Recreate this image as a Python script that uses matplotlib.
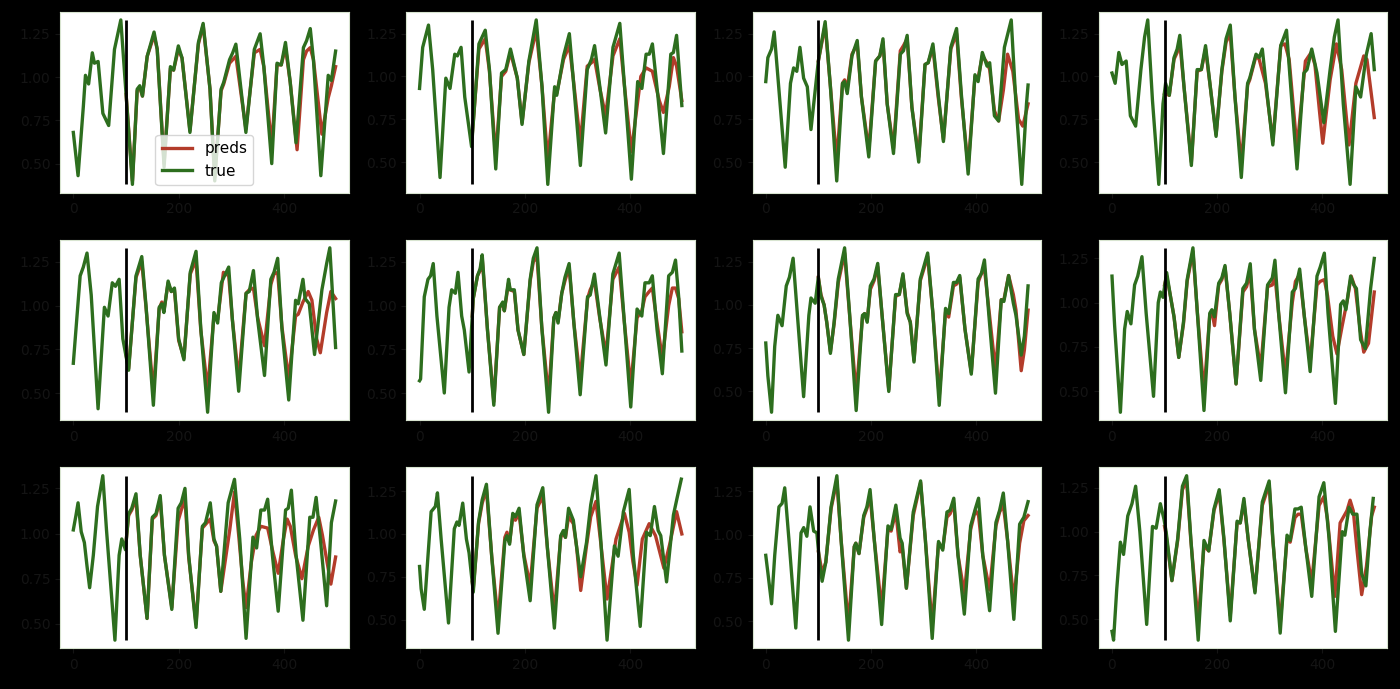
import matplotlib
matplotlib.use('Agg')
import matplotlib.pyplot as plt

# values, one (x, y) list per panel
t1_x = [0, 9, 19, 23, 29, 36, 40, 47, 56, 67, 78, 90, 112, 121, 126, 131, 140, 153, 159, 172, 184, 190, 199, 206, 221, 237, 246, 259, 268, 280, 285, 296, 302, 308, 327, 343, 354, 361, 376, 386, 394, 402, 411, 422, 436, 442, 449, 455, 469, 483, 489, 497]
t1_y = [0.68, 0.43, 0.83, 1.01, 0.96, 1.14, 1.08, 1.09, 0.79, 0.72, 1.16, 1.33, 0.38, 0.93, 0.95, 0.89, 1.12, 1.26, 1.16, 0.48, 1.06, 1.04, 1.18, 1.11, 0.68, 1.20, 1.31, 0.93, 0.40, 0.93, 0.97, 1.10, 1.14, 1.19, 0.68, 1.16, 1.25, 1.06, 0.50, 1.08, 1.07, 1.20, 0.97, 0.62, 1.17, 1.21, 1.28, 1.10, 0.43, 1.01, 0.98, 1.15]
p1_x = [100, 112, 121, 126, 131, 140, 153, 159, 172, 184, 190, 199, 206, 221, 237, 246, 259, 268, 280, 285, 296, 302, 308, 327, 343, 354, 361, 376, 386, 394, 402, 411, 424, 436, 442, 449, 455, 471, 483, 489, 497]
p1_y = [0.90, 0.40, 0.92, 0.94, 0.89, 1.12, 1.24, 1.16, 0.50, 1.05, 1.04, 1.16, 1.11, 0.69, 1.19, 1.30, 0.93, 0.42, 0.92, 0.96, 1.08, 1.10, 1.12, 0.70, 1.14, 1.16, 1.06, 0.60, 1.07, 1.07, 1.17, 0.97, 0.58, 1.10, 1.15, 1.17, 1.10, 0.67, 0.88, 0.95, 1.06]

t2_x = [0, 6, 17, 25, 39, 50, 58, 67, 72, 79, 86, 99, 113, 125, 133, 145, 156, 164, 173, 186, 195, 208, 222, 233, 244, 257, 261, 274, 285, 292, 306, 319, 327, 333, 343, 354, 368, 381, 390, 403, 415, 423, 431, 437, 443, 453, 464, 478, 483, 489, 499]
t2_y = [0.93, 1.17, 1.30, 1.04, 0.41, 0.99, 0.93, 1.13, 1.12, 1.17, 0.88, 0.59, 1.19, 1.27, 1.04, 0.46, 1.02, 1.04, 1.16, 0.99, 0.72, 1.09, 1.33, 0.94, 0.37, 0.94, 0.89, 1.12, 1.25, 1.00, 0.48, 1.04, 1.10, 1.18, 0.94, 0.67, 1.17, 1.31, 0.94, 0.40, 0.97, 0.93, 1.13, 1.13, 1.19, 0.90, 0.55, 1.13, 1.14, 1.24, 0.83]
p2_x = [100, 113, 125, 133, 145, 156, 164, 173, 186, 195, 208, 222, 233, 244, 257, 261, 274, 285, 292, 306, 319, 327, 333, 343, 354, 368, 381, 390, 403, 421, 431, 443, 456, 464, 475, 483, 489, 499]
p2_y = [0.65, 1.16, 1.22, 1.03, 0.53, 1.00, 1.03, 1.14, 0.99, 0.73, 1.08, 1.27, 0.94, 0.51, 0.92, 0.90, 1.10, 1.18, 1.00, 0.61, 1.06, 1.08, 1.10, 0.93, 0.77, 1.12, 1.22, 0.94, 0.56, 1.00, 1.05, 1.03, 0.86, 0.79, 0.94, 1.11, 1.06, 0.86]

t3_x = [0, 4, 11, 16, 23, 37, 47, 53, 59, 65, 72, 79, 86, 100, 113, 123, 135, 146, 150, 155, 164, 174, 182, 196, 209, 217, 223, 231, 243, 256, 262, 269, 278, 291, 303, 309, 318, 328, 338, 352, 363, 372, 385, 398, 404, 412, 421, 426, 435, 443, 454, 467, 476, 487, 496, 499]
t3_y = [0.97, 1.11, 1.16, 1.26, 1.00, 0.47, 0.96, 1.05, 1.03, 1.17, 0.99, 0.94, 0.69, 1.09, 1.32, 0.94, 0.39, 0.96, 0.97, 0.90, 1.12, 1.21, 0.88, 0.53, 1.09, 1.12, 1.22, 0.84, 0.55, 1.13, 1.15, 1.24, 0.82, 0.50, 1.07, 1.08, 1.19, 0.90, 0.62, 1.17, 1.28, 0.90, 0.43, 1.01, 0.97, 1.14, 1.06, 1.08, 0.77, 0.74, 1.17, 1.33, 0.84, 0.37, 0.84, 0.95]
p3_x = [100, 113, 123, 135, 146, 150, 155, 164, 174, 182, 196, 209, 217, 223, 231, 243, 256, 262, 269, 278, 291, 303, 309, 318, 328, 338, 352, 363, 372, 385, 398, 404, 412, 421, 426, 435, 443, 452, 460, 470, 481, 489, 499]
p3_y = [1.09, 1.30, 0.94, 0.51, 0.96, 0.98, 0.93, 1.13, 1.19, 0.88, 0.57, 1.09, 1.12, 1.20, 0.84, 0.58, 1.15, 1.18, 1.22, 0.82, 0.53, 1.07, 1.08, 1.17, 0.88, 0.63, 1.16, 1.25, 0.88, 0.47, 1.00, 0.99, 1.12, 1.08, 1.04, 0.80, 0.74, 0.92, 1.13, 1.03, 0.75, 0.71, 0.84]

t4_x = [0, 6, 13, 19, 27, 35, 45, 55, 62, 68, 77, 89, 97, 102, 109, 118, 124, 129, 137, 151, 162, 170, 178, 187, 198, 209, 217, 225, 234, 246, 258, 262, 274, 280, 286, 295, 306, 321, 332, 341, 352, 365, 371, 380, 390, 403, 415, 423, 430, 440, 453, 464, 473, 484, 493, 499]
t4_y = [1.02, 0.96, 1.14, 1.07, 1.09, 0.77, 0.71, 1.04, 1.23, 1.33, 0.86, 0.37, 0.84, 0.96, 0.89, 1.11, 1.16, 1.24, 0.94, 0.48, 1.04, 1.04, 1.18, 0.94, 0.65, 1.04, 1.22, 1.30, 0.88, 0.41, 0.96, 0.99, 1.13, 1.11, 1.16, 0.90, 0.60, 1.18, 1.27, 0.90, 0.46, 1.02, 1.04, 1.16, 1.02, 0.73, 1.04, 1.23, 1.33, 0.84, 0.37, 0.94, 0.88, 1.13, 1.25, 1.04]
p4_x = [100, 109, 118, 124, 129, 137, 151, 162, 170, 178, 187, 198, 209, 217, 225, 234, 246, 258, 262, 274, 280, 292, 306, 321, 329, 337, 352, 368, 379, 386, 395, 401, 415, 427, 437, 451, 464, 479, 485, 499]
p4_y = [0.90, 0.89, 1.10, 1.14, 1.20, 0.94, 0.50, 1.03, 1.04, 1.16, 0.94, 0.66, 1.03, 1.20, 1.25, 0.88, 0.49, 0.95, 0.98, 1.12, 1.10, 0.96, 0.62, 1.18, 1.19, 1.10, 0.58, 1.09, 1.14, 1.07, 0.79, 0.61, 0.98, 1.19, 1.04, 0.60, 0.96, 1.12, 1.10, 0.76]

t5_x = [0, 13, 19, 26, 34, 47, 59, 66, 74, 80, 87, 94, 105, 119, 130, 138, 152, 163, 168, 172, 180, 186, 192, 200, 210, 222, 233, 242, 255, 267, 274, 281, 295, 302, 314, 328, 334, 342, 350, 363, 375, 381, 388, 396, 409, 422, 427, 436, 440, 448, 458, 472, 481, 487, 498]
t5_y = [0.67, 1.17, 1.22, 1.30, 1.06, 0.41, 0.99, 0.94, 1.13, 1.11, 1.15, 0.81, 0.63, 1.17, 1.28, 1.00, 0.43, 0.99, 1.01, 0.96, 1.14, 1.08, 1.10, 0.81, 0.69, 1.19, 1.31, 0.87, 0.39, 0.96, 0.90, 1.13, 1.22, 0.92, 0.51, 1.07, 1.08, 1.20, 0.92, 0.60, 1.15, 1.19, 1.27, 0.87, 0.46, 1.03, 1.01, 1.15, 1.04, 1.01, 0.72, 1.09, 1.24, 1.33, 0.76]
p5_x = [100, 105, 119, 130, 138, 152, 163, 168, 172, 180, 186, 192, 200, 210, 222, 233, 242, 255, 267, 274, 285, 295, 302, 314, 328, 334, 342, 350, 363, 375, 381, 388, 396, 409, 422, 427, 436, 446, 453, 462, 469, 481, 489, 498]
p5_y = [0.72, 0.64, 1.16, 1.25, 0.99, 0.50, 0.98, 1.02, 0.97, 1.13, 1.08, 1.09, 0.80, 0.70, 1.18, 1.26, 0.86, 0.52, 0.94, 0.92, 1.19, 1.17, 0.92, 0.58, 1.07, 1.09, 1.10, 0.93, 0.77, 1.12, 1.18, 1.19, 0.88, 0.58, 0.94, 0.95, 1.02, 1.08, 1.03, 0.81, 0.73, 0.96, 1.08, 1.04]

t6_x = [0, 2, 9, 16, 21, 26, 33, 47, 56, 61, 68, 73, 80, 85, 94, 102, 110, 115, 119, 129, 141, 152, 158, 161, 169, 172, 180, 187, 198, 210, 216, 223, 232, 245, 255, 259, 263, 270, 276, 284, 293, 305, 319, 324, 332, 342, 354, 367, 379, 389, 401, 413, 422, 428, 436, 442, 451, 461, 473, 480, 486, 492, 498]
t6_y = [0.57, 0.58, 1.05, 1.15, 1.17, 1.24, 0.94, 0.50, 0.99, 1.09, 1.07, 1.19, 0.94, 0.86, 0.62, 1.04, 1.17, 1.21, 1.29, 0.86, 0.43, 0.99, 1.02, 0.97, 1.15, 1.09, 1.09, 0.86, 0.72, 1.15, 1.27, 1.33, 0.88, 0.39, 0.93, 0.96, 0.90, 1.07, 1.16, 1.24, 0.90, 0.49, 1.05, 1.06, 1.18, 0.94, 0.66, 1.18, 1.30, 0.90, 0.42, 0.98, 0.94, 1.13, 1.13, 1.17, 0.86, 0.61, 1.17, 1.19, 1.26, 1.05, 0.74]
p6_x = [100, 102, 110, 115, 119, 129, 141, 152, 158, 161, 169, 172, 180, 187, 198, 210, 216, 223, 232, 245, 255, 259, 263, 270, 276, 284, 293, 305, 319, 324, 332, 342, 354, 367, 379, 389, 401, 413, 422, 428, 436, 442, 451, 461, 473, 480, 486, 492, 498]
p6_y = [0.94, 1.04, 1.17, 1.20, 1.27, 0.86, 0.45, 0.99, 1.01, 0.97, 1.13, 1.09, 1.08, 0.86, 0.72, 1.14, 1.25, 1.28, 0.88, 0.48, 0.93, 0.96, 0.91, 1.07, 1.14, 1.22, 0.90, 0.58, 1.04, 1.09, 1.14, 0.93, 0.72, 1.15, 1.22, 0.90, 0.54, 0.93, 0.97, 1.05, 1.08, 1.10, 0.90, 0.70, 1.00, 1.10, 1.10, 1.04, 0.85]

t7_x = [0, 4, 11, 17, 23, 31, 39, 45, 52, 60, 72, 82, 86, 94, 100, 105, 111, 116, 123, 130, 138, 150, 159, 172, 184, 188, 193, 199, 206, 213, 221, 234, 247, 254, 261, 269, 275, 282, 294, 308, 318, 330, 342, 348, 357, 363, 369, 379, 391, 404, 410, 416, 425, 437, 448, 453, 462, 471, 476, 486, 492, 499]
t7_y = [0.78, 0.59, 0.38, 0.76, 0.94, 0.88, 1.11, 1.16, 1.27, 0.95, 0.47, 0.94, 1.04, 1.01, 1.16, 1.05, 1.00, 0.90, 0.72, 0.90, 1.15, 1.33, 0.97, 0.39, 0.94, 0.95, 0.90, 1.11, 1.15, 1.24, 0.95, 0.50, 1.06, 1.06, 1.18, 0.95, 0.90, 0.67, 1.15, 1.30, 0.95, 0.42, 0.98, 0.95, 1.13, 1.13, 1.17, 0.86, 0.60, 1.15, 1.18, 1.26, 0.92, 0.49, 1.03, 1.02, 1.17, 1.01, 0.94, 0.71, 0.82, 1.11]
p7_x = [100, 105, 111, 116, 123, 130, 138, 150, 159, 172, 184, 188, 193, 199, 206, 213, 221, 234, 247, 254, 261, 269, 275, 282, 294, 308, 318, 330, 342, 348, 357, 363, 369, 379, 391, 404, 410, 416, 425, 437, 448, 453, 462, 471, 476, 486, 492, 499]
p7_y = [1.16, 1.06, 1.00, 0.90, 0.73, 0.89, 1.13, 1.30, 0.96, 0.49, 0.93, 0.95, 0.91, 1.09, 1.14, 1.22, 0.95, 0.51, 1.05, 1.06, 1.17, 0.96, 0.90, 0.68, 1.14, 1.28, 0.95, 0.47, 0.96, 0.93, 1.11, 1.12, 1.16, 0.86, 0.61, 1.13, 1.18, 1.21, 0.96, 0.62, 1.03, 1.03, 1.17, 1.06, 0.97, 0.62, 0.74, 0.97]

t8_x = [0, 5, 16, 24, 29, 36, 43, 49, 57, 65, 79, 88, 92, 97, 104, 111, 118, 127, 136, 143, 154, 162, 175, 186, 190, 195, 203, 209, 215, 224, 236, 249, 256, 263, 271, 283, 296, 305, 310, 317, 330, 343, 349, 357, 366, 377, 390, 396, 404, 411, 425, 435, 440, 445, 454, 460, 465, 473, 482, 492, 499]
t8_y = [1.15, 0.87, 0.38, 0.85, 0.95, 0.88, 1.10, 1.15, 1.26, 0.94, 0.47, 1.00, 1.06, 1.03, 1.17, 1.04, 0.92, 0.69, 0.89, 1.13, 1.31, 0.96, 0.39, 0.94, 0.96, 0.92, 1.11, 1.14, 1.21, 0.94, 0.54, 1.08, 1.11, 1.22, 0.85, 0.56, 1.10, 1.14, 1.24, 0.94, 0.49, 1.06, 1.08, 1.19, 0.92, 0.61, 1.15, 1.20, 1.28, 0.94, 0.43, 0.99, 1.01, 0.96, 1.15, 1.10, 1.08, 0.79, 0.74, 1.08, 1.25]
p8_x = [100, 104, 111, 118, 127, 136, 143, 154, 162, 175, 186, 190, 195, 203, 209, 215, 224, 236, 249, 256, 263, 271, 283, 296, 305, 310, 317, 330, 343, 349, 357, 366, 377, 390, 396, 404, 410, 420, 428, 438, 448, 455, 463, 472, 479, 488, 499]
p8_y = [1.10, 1.15, 1.04, 0.92, 0.69, 0.88, 1.12, 1.29, 0.96, 0.49, 0.93, 0.95, 0.87, 1.10, 1.13, 1.20, 0.94, 0.54, 1.06, 1.09, 1.17, 0.85, 0.63, 1.09, 1.10, 1.15, 0.94, 0.59, 1.00, 1.12, 1.16, 0.92, 0.66, 1.10, 1.12, 1.13, 1.04, 0.81, 0.71, 0.87, 1.02, 1.15, 1.08, 0.85, 0.72, 0.77, 1.06]

t9_x = [0, 5, 9, 15, 21, 26, 31, 38, 46, 56, 63, 79, 87, 92, 99, 105, 111, 119, 127, 140, 150, 157, 165, 173, 187, 199, 205, 212, 219, 233, 245, 251, 260, 267, 272, 280, 294, 306, 316, 328, 341, 348, 356, 363, 369, 378, 389, 403, 408, 414, 423, 436, 449, 455, 461, 469, 481, 490, 498]
t9_y = [1.02, 1.10, 1.17, 1.01, 0.95, 0.82, 0.70, 0.88, 1.15, 1.32, 1.02, 0.41, 0.88, 0.97, 0.91, 1.11, 1.14, 1.22, 0.88, 0.53, 1.09, 1.11, 1.21, 0.88, 0.58, 1.14, 1.17, 1.25, 0.88, 0.48, 1.04, 1.06, 1.17, 0.97, 0.93, 0.68, 1.17, 1.30, 0.97, 0.42, 0.98, 0.92, 1.13, 1.13, 1.19, 0.88, 0.57, 1.13, 1.14, 1.24, 0.88, 0.52, 1.09, 1.09, 1.20, 0.97, 0.60, 1.06, 1.18]
p9_x = [100, 105, 111, 119, 127, 140, 150, 157, 165, 173, 187, 199, 205, 212, 219, 233, 245, 251, 260, 267, 272, 280, 288, 297, 306, 314, 322, 328, 338, 347, 356, 369, 378, 389, 399, 406, 412, 422, 434, 446, 456, 466, 473, 489, 498]
p9_y = [0.95, 1.10, 1.13, 1.19, 0.88, 0.53, 1.08, 1.10, 1.19, 0.88, 0.59, 1.07, 1.13, 1.19, 0.87, 0.50, 1.03, 1.05, 1.08, 0.96, 0.93, 0.68, 0.84, 1.02, 1.23, 0.99, 0.73, 0.59, 0.84, 0.99, 1.04, 1.03, 0.91, 0.78, 0.97, 1.08, 1.04, 0.88, 0.75, 0.93, 1.02, 1.09, 0.99, 0.72, 0.87]

t10_x = [0, 3, 9, 16, 22, 30, 34, 41, 55, 66, 71, 75, 82, 89, 94, 102, 112, 119, 127, 137, 149, 162, 166, 171, 177, 182, 189, 198, 210, 223, 234, 243, 256, 268, 273, 277, 283, 292, 298, 306, 317, 325, 335, 344, 356, 370, 377, 387, 398, 406, 419, 431, 438, 446, 453, 458, 469, 482, 489, 497]
t10_y = [0.81, 0.68, 0.56, 0.87, 1.13, 1.16, 1.24, 0.97, 0.48, 1.03, 1.07, 1.05, 1.18, 0.97, 0.89, 0.66, 1.07, 1.20, 1.29, 0.87, 0.42, 0.96, 0.99, 0.94, 1.12, 1.10, 1.15, 0.87, 0.61, 1.17, 1.27, 0.91, 0.45, 0.99, 1.02, 0.98, 1.15, 1.08, 0.93, 0.75, 0.95, 1.17, 1.34, 0.97, 0.38, 0.93, 0.87, 1.13, 1.26, 0.87, 0.46, 1.01, 0.99, 1.16, 1.02, 0.99, 0.72, 1.11, 1.21, 1.32]
p10_x = [100, 102, 112, 119, 127, 137, 149, 162, 166, 171, 177, 182, 189, 198, 210, 223, 234, 243, 256, 268, 273, 277, 283, 292, 298, 306, 317, 325, 335, 344, 356, 373, 389, 398, 405, 413, 423, 436, 448, 464, 475, 488, 498]
p10_y = [0.72, 0.68, 1.06, 1.18, 1.26, 0.87, 0.50, 0.98, 1.01, 0.95, 1.10, 1.08, 1.12, 0.88, 0.70, 1.15, 1.22, 0.91, 0.54, 0.98, 1.01, 0.98, 1.10, 1.06, 0.93, 0.67, 0.93, 1.10, 1.19, 0.95, 0.62, 0.97, 1.12, 1.01, 0.84, 0.70, 0.97, 1.06, 0.99, 0.80, 0.94, 1.13, 1.00]

t11_x = [0, 4, 11, 17, 25, 31, 36, 44, 57, 67, 72, 78, 84, 91, 97, 102, 107, 114, 124, 135, 143, 157, 168, 171, 177, 186, 192, 198, 206, 220, 232, 238, 247, 255, 259, 267, 280, 294, 303, 316, 328, 336, 344, 350, 357, 365, 377, 389, 398, 404, 412, 425, 437, 444, 451, 459, 471, 482, 490, 498]
t11_y = [0.88, 0.78, 0.60, 0.88, 1.16, 1.18, 1.27, 0.97, 0.46, 1.01, 1.04, 0.99, 1.16, 1.02, 1.01, 0.84, 0.73, 0.84, 1.16, 1.34, 0.97, 0.39, 0.93, 0.95, 0.89, 1.11, 1.16, 1.26, 0.97, 0.48, 1.05, 1.03, 1.17, 0.98, 0.95, 0.69, 1.13, 1.31, 0.97, 0.40, 0.96, 0.91, 1.13, 1.14, 1.21, 0.88, 0.54, 1.05, 1.15, 1.21, 0.88, 0.56, 1.07, 1.14, 1.24, 0.97, 0.51, 1.06, 1.10, 1.19]
p11_x = [100, 107, 114, 124, 135, 143, 157, 168, 171, 177, 186, 192, 198, 206, 220, 232, 238, 247, 255, 259, 267, 280, 294, 303, 316, 328, 336, 344, 350, 357, 365, 377, 389, 398, 404, 412, 425, 437, 444, 451, 459, 471, 482, 490, 498]
p11_y = [0.90, 0.78, 0.84, 1.15, 1.31, 0.97, 0.48, 0.93, 0.95, 0.89, 1.10, 1.15, 1.22, 0.97, 0.57, 1.03, 1.02, 1.13, 0.90, 0.93, 0.69, 1.11, 1.30, 0.97, 0.47, 0.95, 0.92, 1.10, 1.12, 1.18, 0.88, 0.66, 1.03, 1.14, 1.11, 0.88, 0.68, 1.05, 1.13, 1.17, 0.97, 0.62, 0.95, 1.08, 1.11]

t12_x = [0, 3, 9, 16, 22, 30, 38, 45, 53, 66, 77, 84, 92, 99, 103, 114, 125, 134, 142, 150, 164, 175, 184, 194, 204, 213, 225, 238, 244, 251, 259, 272, 286, 299, 306, 320, 333, 339, 348, 354, 360, 369, 380, 394, 403, 413, 425, 438, 443, 451, 458, 466, 475, 483, 491, 497]
t12_y = [0.43, 0.38, 0.67, 0.94, 0.87, 1.09, 1.16, 1.26, 1.00, 0.47, 1.03, 1.02, 1.16, 1.07, 1.00, 0.72, 0.96, 1.26, 1.32, 0.96, 0.38, 0.95, 0.89, 1.13, 1.24, 0.96, 0.49, 1.06, 1.05, 1.19, 0.96, 0.65, 1.17, 1.29, 0.96, 0.42, 0.98, 0.95, 1.13, 1.13, 1.14, 0.90, 0.63, 1.20, 1.28, 0.96, 0.43, 1.00, 0.98, 1.14, 1.10, 1.10, 0.76, 0.69, 1.01, 1.19]
p12_x = [100, 103, 114, 125, 134, 142, 150, 164, 175, 184, 194, 204, 213, 225, 238, 244, 251, 259, 272, 286, 299, 306, 320, 333, 339, 348, 354, 360, 369, 380, 394, 403, 410, 424, 434, 447, 453, 459, 466, 475, 484, 494, 499]
p12_y = [1.03, 0.98, 0.72, 0.95, 1.24, 1.29, 0.95, 0.48, 0.92, 0.89, 1.12, 1.22, 0.95, 0.52, 1.05, 1.05, 1.17, 0.96, 0.66, 1.15, 1.27, 0.95, 0.47, 0.96, 0.94, 1.08, 1.10, 1.10, 0.90, 0.71, 1.15, 1.20, 1.07, 0.63, 1.05, 1.12, 1.18, 1.12, 0.90, 0.64, 0.80, 1.09, 1.14]

split_at = 100          # where the forecast starts
x_ticks = [0, 200, 400]
y_ticks = [0.50, 0.75, 1.00, 1.25]

panels = [
    (t1_x, t1_y, p1_x, p1_y), (t2_x, t2_y, p2_x, p2_y),
    (t3_x, t3_y, p3_x, p3_y), (t4_x, t4_y, p4_x, p4_y),
    (t5_x, t5_y, p5_x, p5_y), (t6_x, t6_y, p6_x, p6_y),
    (t7_x, t7_y, p7_x, p7_y), (t8_x, t8_y, p8_x, p8_y),
    (t9_x, t9_y, p9_x, p9_y), (t10_x, t10_y, p10_x, p10_y),
    (t11_x, t11_y, p11_x, p11_y), (t12_x, t12_y, p12_x, p12_y),
]

fig, axes = plt.subplots(3, 4, figsize=(14, 6.89), dpi=100)
fig.patch.set_facecolor('black')
fig.subplots_adjust(left=0.043, right=0.991, top=0.983, bottom=0.059,
                    wspace=0.2, hspace=0.26)

for i, (ax, (tx, ty, px, py)) in enumerate(zip(axes.flat, panels)):
    ax.set_facecolor('white')
    # preds first so true sits on top
    ax.plot(px, py, color='#b33c2a', linewidth=2.4, label='preds')
    ax.plot(tx, ty, color='#2d6e1e', linewidth=2.4, label='true')
    lo = min(min(ty), min(py))
    hi = max(max(ty), max(py))
    ax.vlines(split_at, lo, hi, color='black', linewidth=2)
    ax.set_xticks(x_ticks)
    ax.set_yticks(y_ticks)
    ax.tick_params(colors='#141414', labelsize=10)
    for s in ax.spines.values():
        s.set_color('#d8e4d0')
    if i == 0:
        ax.legend(loc='lower center', fontsize=11)

fig.savefig('out.png', dpi=100, facecolor=fig.get_facecolor())
